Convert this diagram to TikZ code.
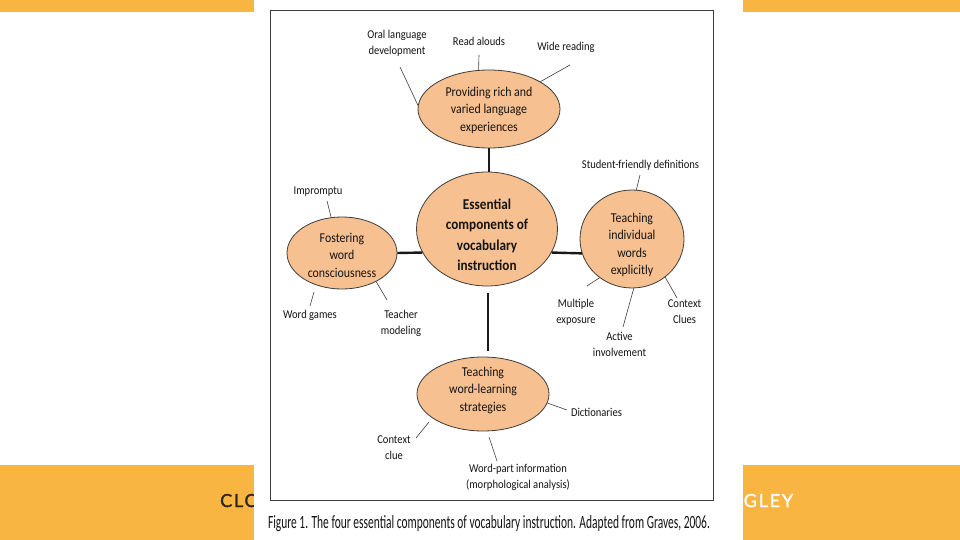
\documentclass[tikz,border=0pt]{standalone}
\usepackage{fontspec}
\usepackage{graphicx}
\setmainfont{Carlito}
\newfontfamily\bandfont[LetterSpace=10,FakeBold=1.5]{Lato}
\usetikzlibrary{shapes.geometric,calc}
\definecolor{bandorange}{HTML}{F8B542}
\definecolor{bubfill}{HTML}{F7C091}
\definecolor{inkline}{HTML}{3C3C3C}
\definecolor{inktext}{HTML}{141414}
\newcommand\nq[1]{\scalebox{0.88}[1]{#1}}
\begin{document}
\begin{tikzpicture}[x=1pt,y=-1pt,
  bub/.style={ellipse, draw=inkline, line width=0.8pt, fill=bubfill, inner sep=0pt},
  lab/.style={font=\fontsize{12}{16}\selectfont, align=center, inner sep=0pt, text=inktext},
  btext/.style={font=\fontsize{13.5}{17.5}\selectfont, align=center, inner sep=0pt, text=inktext},
  ctext/.style={font=\bfseries\fontsize{15}{20.5}\selectfont, align=center, inner sep=0pt, text=inktext},
  spoke/.style={draw=inkline, line width=0.6pt},
  link/.style={draw=black!90, line width=2.4pt}]
\useasboundingbox (0,0) rectangle (960,540);
% slide background bands
\fill[bandorange] (0,0) rectangle (960,12.5);
\fill[bandorange] (0,465) rectangle (960,540);
\node[anchor=base west, inner sep=0pt, font=\bandfont\fontsize{18}{18}\selectfont, text=black!85] (clo) at (220,507) {CLO};
\node[anchor=base west, inner sep=0pt, font=\bandfont\fontsize{18}{18}\selectfont, text=white] (gley) at (743.5,507) {GLEY};
% figure panel
\fill[white] (254,0) rectangle (743,540);
\draw[inkline, line width=0.9pt] (270,10) rectangle (713,500);
% ellipses
\node[bub, minimum width=142pt, minimum height=78pt] (T) at (489,109) {};
\node[bub, minimum width=141pt, minimum height=114pt] (C) at (487,229) {};
\node[bub, minimum width=110pt, minimum height=72pt] (L) at (342,253) {};
\node[bub, minimum width=104pt, minimum height=98pt] (R) at (632,239) {};
\node[bub, minimum width=132pt, minimum height=74pt] (B) at (483,394) {};
% ellipse texts
\node[btext] (Tt) at (489,110) {\nq{Providing rich and}\\\nq{varied language}\\\nq{experiences}};
\node[ctext] (Ct) at (487,235) {\nq{Essential}\\\nq{components of}\\\nq{vocabulary}\\\nq{instruction}};
\node[btext] (Lt) at (342,255) {\nq{Fostering}\\\nq{word}\\\nq{consciousness}};
\node[btext] (Rt) at (632,245) {\nq{Teaching}\\\nq{individual}\\\nq{words}\\\nq{explicitly}};
\node[btext] (Bt) at (483,390) {\nq{Teaching}\\\nq{word-learning}\\\nq{strategies}};
% thick links
\draw[link] (T.south) -- (T.south |- C.north);
\draw[link] (L.east) -- (C.200);
\draw[link] (C.340) -- (R.196);
\draw[link] ($(C.south)+(1,7)$) -- ($(B.north)+(5,-6)$);
% labels
\node[lab] (oral) at (397,43) {\nq{Oral language}\\\nq{development}};
\node[lab] (read) at (479,41) {\nq{Read alouds}};
\node[lab] (wide) at (566,47) {\nq{Wide reading}};
\node[lab] (sfd) at (640.5,165) {\nq{Student-friendly definitions}};
\node[lab] (mult) at (576,312) {\nq{Multiple}\\\nq{exposure}};
\node[lab] (act) at (619.5,344) {\nq{Active}\\\nq{involvement}};
\node[lab] (ctx) at (684.5,312) {\nq{Context}\\\nq{Clues}};
\node[lab] (imp) at (318,192) {\nq{Impromptu}};
\node[lab] (wg) at (310,315) {\nq{Word games}};
\node[lab] (tm) at (401,323) {\nq{Teacher}\\\nq{modeling}};
\node[lab] (dict) at (596.5,412) {\nq{Dictionaries}};
\node[lab] (cc) at (394,448) {\nq{Context}\\\nq{clue}};
\node[lab] (wp) at (518,477) {\nq{Word-part information}\\\nq{(morphological analysis)}};
% spoke ends near labels
\coordinate (oralE) at (400,67);
\coordinate (readE) at (479,55);
\coordinate (wideE) at (570,65);
\coordinate (sfdE) at (640,175);
\coordinate (multE) at (587,286);
\coordinate (actE) at (623,327);
\coordinate (ctxE) at (677,298);
\coordinate (impE) at (327,201);
\coordinate (wgE) at (310,306);
\coordinate (wgS) at (314,292);
\coordinate (tmE) at (387,300);
\coordinate (dictE) at (567,410);
\coordinate (ccE) at (416,438);
\coordinate (ccS) at (429,422);
\coordinate (wpE) at (497,461);
\coordinate (wpS) at (489,437);
% spokes
\draw[spoke] (oralE) -- (T.177);
\draw[spoke] (readE) -- (T.105);
\draw[spoke] (wideE) -- (T.28);
\draw[spoke] (sfdE) -- (R.85);
\draw[spoke] (multE) -- (R.230);
\draw[spoke] (actE) -- (R.272);
\draw[spoke] (ctxE) -- (R.311);
\draw[spoke] (impE) -- (L.107);
\draw[spoke] (wgE) -- (wgS);
\draw[spoke] (tmE) -- (L.320);
\draw[spoke] (dictE) -- (B.352);
\draw[spoke] (ccE) -- (ccS);
\draw[spoke] (wpE) -- (wpS);
% caption
\node[anchor=base, inner sep=0pt, text=inktext] (cap) at (489,528) {\resizebox{442pt}{13pt}{Figure 1. The four essential components of vocabulary instruction. Adapted from Graves, 2006.}};
\end{tikzpicture}
\end{document}
